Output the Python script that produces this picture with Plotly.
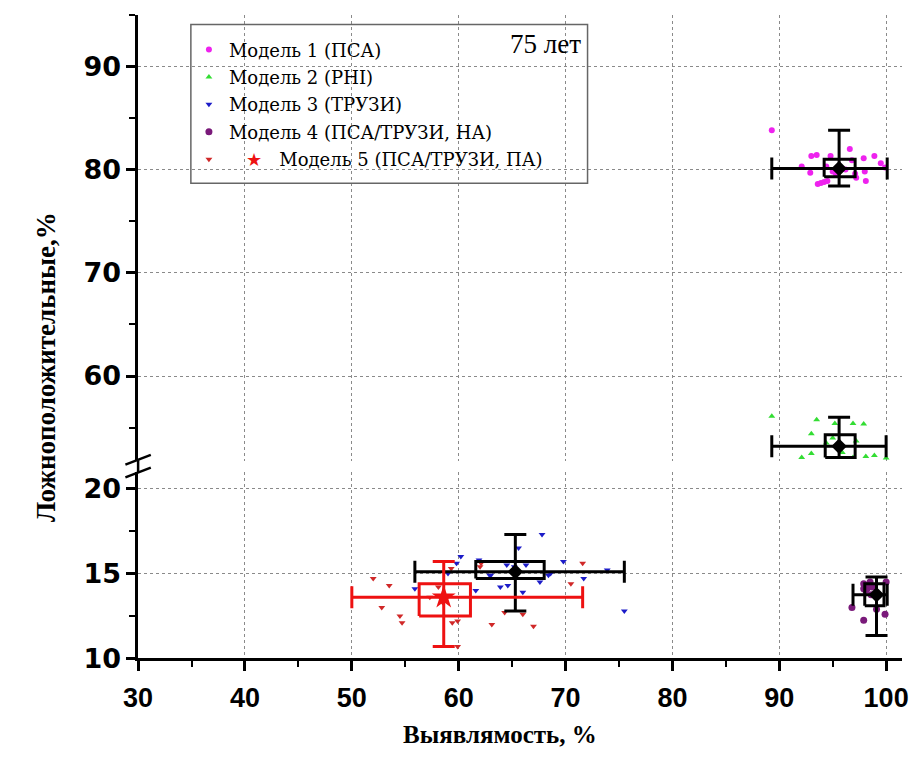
import plotly.graph_objects as go

W, H = 915, 762

# ---------------- data ----------------
names = ["Модель 1 (ПСА)", "Модель 2 (PHI)", "Модель 3 (ТРУЗИ)",
         "Модель 4 (ПСА/ТРУЗИ, НА)", "Модель 5 (ПСА/ТРУЗИ, ПА)"]

m1_x = [89.3, 92.1, 92.9, 93.0, 93.5, 94.8, 93.6, 93.9, 94.2, 94.5, 95.0, 95.3,
        96.6, 97.1, 97.2, 97.9, 98.0, 98.1, 98.9, 95.6, 96.2, 94.4, 99.5, 96.8, 99.9]
m1_y = [83.8, 80.3, 79.7, 81.3, 81.4, 81.3, 78.6, 78.7, 78.8, 78.9, 79.8, 79.6,
        82.0, 79.6, 79.2, 81.1, 79.8, 78.9, 81.3, 80.3, 80.0, 80.3, 80.6, 80.9, 80.2]

m2_x = [89.3, 93.5, 95.2, 96.9, 97.9, 93.0, 95.0, 93.0, 92.1, 98.1, 98.9, 100.0,
        96.9, 95.9, 97.2, 94.4, 95.6]
m2_y = [56.1, 55.75, 55.4, 55.4, 55.35, 54.4, 54.0, 52.5, 52.1, 52.2, 52.3, 52.05,
        52.1, 52.6, 53.7, 53.5, 53.05]

m3_x = [67.8, 65.6, 64.5, 66.3, 69.8, 68.4, 67.6, 71.7, 73.9, 63.9, 64.6, 66.0,
        75.5, 63.0, 60.2, 59.8, 61.9, 55.9, 61.6, 59.0, 62.9, 65.2, 68.6]
m3_y = [17.3, 16.5, 15.5, 15.5, 15.7, 14.9, 14.5, 14.7, 15.2, 14.2, 14.3, 13.9,
        12.8, 14.9, 16.0, 15.6, 15.8, 14.1, 14.0, 15.0, 14.9, 15.4, 15.0]

m4_x = [97.9, 98.2, 96.8, 97.9, 99.9, 100.0, 99.1, 98.0, 98.3, 98.5, 97.9, 98.6,
        98.4, 98.1, 98.7]
m4_y = [14.4, 14.1, 13.0, 12.25, 12.6, 14.5, 12.9, 14.3, 14.2, 14.5, 14.1, 13.75,
        14.3, 14.0, 14.2]

m5_x = [71.6, 70.5, 63.1, 67.0, 64.3, 66.0, 52.0, 53.5, 52.8, 54.5, 54.7, 59.4,
        59.9, 59.9, 59.3, 58.1, 58.5, 57.3, 62.1, 62.0]
m5_y = [15.6, 14.4, 12.0, 11.9, 12.7, 12.6, 14.7, 14.3, 13.0, 12.5, 12.1, 12.1,
        12.2, 10.7, 15.3, 14.2, 13.3, 13.6, 15.6, 15.4]

# summary statistics per model (mean, box, whiskers)
mean_x   = [95.6, 95.6, 65.3, 99.1, 58.6]
mean_y   = [80.1, 53.2, 15.1, 13.75, 13.6]
box_x_lo = [94.2, 94.3, 61.6, 98.0, 56.3]
box_x_hi = [97.1, 97.1, 68.0, 99.8, 61.1]
box_y_lo = [79.3, 52.1, 14.7, 13.1, 12.5]
box_y_hi = [81.0, 54.3, 15.7, 14.4, 14.4]
min_x    = [89.3, 89.3, 55.9, 96.9, 50.0]
max_x    = [100.1, 100.0, 75.5, 100.1, 71.6]
min_y    = [78.4, 52.1, 12.8, 11.35, 10.7]
max_y    = [83.8, 56.0, 17.3, 14.8, 15.7]

x_ticks = [30, 40, 50, 60, 70, 80, 90, 100]
y_low_ticks = [10, 15, 20]
y_up_ticks = [60, 70, 80, 90]

# ---------------- styling ----------------
pt_x = [m1_x, m2_x, m3_x, m4_x, m5_x]
pt_y = [m1_y, m2_y, m3_y, m4_y, m5_y]
pt_sym = ["circle", "triangle-up", "triangle-down", "circle", "triangle-down"]
pt_col = ["#ee22ee", "#33dd33", "#1c1cc8", "#7a1a7a", "#d02828"]
pt_size = [6, 6, 6, 7, 6]
axes = [("x2", "y2"), ("x2", "y2"), ("x", "y"), ("x", "y"), ("x", "y")]
sum_col = ["black", "black", "black", "black", "#ee1111"]
cen_sym = ["diamond", "diamond", "diamond", "diamond", "star"]
cen_size = [12, 12, 12, 12, 18]

def fx(px):
    return px / W

def fy(py):
    return 1 - py / H

X_RANGE = [30, 101.5]
Y_LOW = [10, 21]
Y_UP = [51.8, 95]
x_dom = [fx(126), fx(908)]
y_low_dom = [fy(671.7), fy(481.0)]
y_up_dom = [fy(469.9), fy(15)]

fig = go.Figure()

for i in range(5):
    xa, ya = axes[i]
    fig.add_trace(go.Scatter(
        x=pt_x[i], y=pt_y[i], mode="markers", name=names[i] if i < 4 else
        "\u00a0\u00a0\u00a0<span style='color:#ee1111'>★</span>\u00a0\u00a0\u00a0" + names[i],
        marker=dict(symbol=pt_sym[i], size=pt_size[i], color=pt_col[i], line=dict(width=0)),
        xaxis=xa, yaxis=ya, legendgroup="g%d" % i, showlegend=True))

for i in range(5):
    xa, ya = axes[i]
    fig.add_trace(go.Scatter(
        x=[box_x_lo[i], box_x_hi[i], box_x_hi[i], box_x_lo[i], box_x_lo[i]],
        y=[box_y_lo[i], box_y_lo[i], box_y_hi[i], box_y_hi[i], box_y_lo[i]],
        mode="lines", line=dict(color=sum_col[i], width=3),
        xaxis=xa, yaxis=ya, showlegend=False, hoverinfo="skip"))
    fig.add_trace(go.Scatter(
        x=[mean_x[i]], y=[mean_y[i]], mode="markers",
        marker=dict(symbol=cen_sym[i], size=cen_size[i], color=sum_col[i]),
        error_x=dict(type="data", symmetric=False,
                     array=[max_x[i] - mean_x[i]], arrayminus=[mean_x[i] - min_x[i]],
                     color=sum_col[i], thickness=3, width=11),
        error_y=dict(type="data", symmetric=False,
                     array=[max_y[i] - mean_y[i]], arrayminus=[mean_y[i] - min_y[i]],
                     color=sum_col[i], thickness=3, width=11),
        xaxis=xa, yaxis=ya, showlegend=False, cliponaxis=False))

grid = dict(showgrid=True, gridcolor="#8a8a8a", gridwidth=1, griddash="dot")
tickfont_x = dict(family="Liberation Sans Narrow, Liberation Sans", size=27,
                  color="black", weight="bold")
tickfont_y = dict(family="DejaVu Sans", size=27, color="black", weight="bold")

fig.update_layout(
    width=W, height=H, margin=dict(l=0, r=0, t=0, b=0),
    paper_bgcolor="white", plot_bgcolor="white",
    xaxis=dict(domain=x_dom, range=X_RANGE, anchor="y", tickvals=x_ticks,
               ticks="outside", ticklen=10, tickwidth=2.5, tickcolor="black",
               showline=True, linecolor="black", linewidth=2.5,
               tickfont=tickfont_x, zeroline=False, ticklabelstandoff=3,
               ticklabeloverflow="allow",
               minor=dict(dtick=5, tick0=0, ticks="outside", ticklen=6, tickwidth=2,
                          tickcolor="black", showgrid=False), **grid),
    xaxis2=dict(domain=x_dom, range=X_RANGE, anchor="y2", tickvals=x_ticks,
                showticklabels=False, ticks="", showline=False, zeroline=False, **grid),
    yaxis=dict(domain=y_low_dom, range=Y_LOW, anchor="x", tickvals=y_low_ticks,
               ticks="outside", ticklen=9, tickwidth=2.5, tickcolor="black",
               showline=True, linecolor="black", linewidth=2.5,
               tickfont=tickfont_y, zeroline=False,
               minor=dict(dtick=2.5, tick0=0, ticks="outside", ticklen=6, tickwidth=2,
                          tickcolor="black", showgrid=False), **grid),
    yaxis2=dict(domain=y_up_dom, range=Y_UP, anchor="x2", tickvals=y_up_ticks,
                ticks="outside", ticklen=9, tickwidth=2.5, tickcolor="black",
                showline=True, linecolor="black", linewidth=2.5,
                tickfont=tickfont_y, zeroline=False,
                minor=dict(dtick=5, tick0=0, ticks="outside", ticklen=6, tickwidth=2,
                           tickcolor="black", showgrid=False), **grid),
    legend=dict(x=fx(178), y=fy(32), xanchor="left", yanchor="top",
                bgcolor="rgba(0,0,0,0)", borderwidth=0,
                font=dict(family="DejaVu Serif", size=18, color="black"),
                tracegroupgap=1, itemsizing="trace"),
    showlegend=True,
)

shapes = [
    # legend frame
    dict(type="rect", xref="paper", yref="paper", x0=fx(180), x1=fx(586),
         y0=fy(187), y1=fy(25), line=dict(color="#666666", width=1.5)),
    # axis line across the break
    dict(type="line", xref="paper", yref="paper", x0=fx(126), x1=fx(126),
         y0=fy(481.5), y1=fy(469.5), line=dict(color="black", width=2.5)),
    # break marks
    dict(type="line", xref="paper", yref="paper", x0=fx(113), x1=fx(139),
         y0=fy(474), y1=fy(464), line=dict(color="black", width=2.5)),
    dict(type="line", xref="paper", yref="paper", x0=fx(113), x1=fx(139),
         y0=fy(487), y1=fy(477), line=dict(color="black", width=2.5)),
]
fig.update_layout(shapes=shapes)

fig.add_annotation(x=fx(581), y=fy(45), xref="paper", yref="paper",
                   xanchor="right", yanchor="middle", showarrow=False,
                   text="75 лет",
                   font=dict(family="Liberation Serif", size=27, color="black"))
fig.add_annotation(x=fx(496), y=fy(749), xref="paper", yref="paper",
                   xanchor="center", yanchor="middle", showarrow=False,
                   text="Выявлямость, %",
                   font=dict(family="Liberation Serif", size=25, color="black", weight="bold"))
fig.add_annotation(x=fx(31), y=fy(374), xref="paper", yref="paper",
                   xanchor="center", yanchor="middle", showarrow=False, textangle=-90,
                   text="Ложноположительные,%",
                   font=dict(family="Liberation Serif", size=27, color="black", weight="bold"))

fig.write_html("out.html")
